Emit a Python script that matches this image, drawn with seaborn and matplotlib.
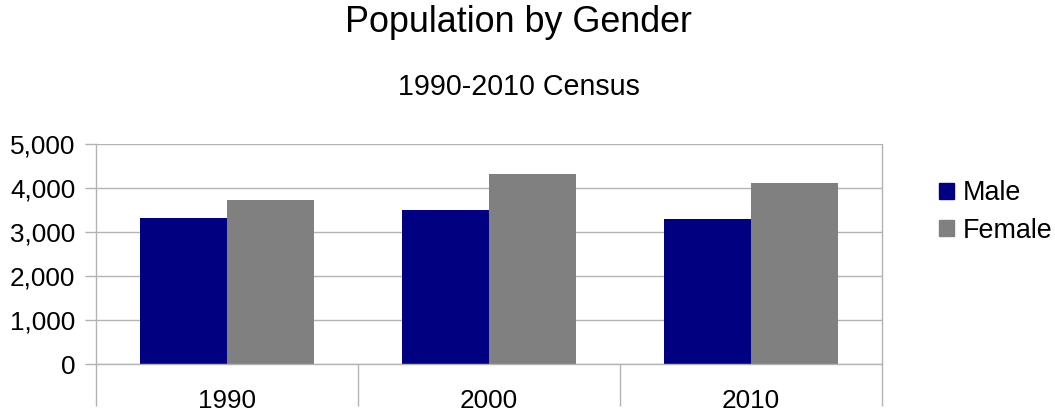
import pandas as pd
import seaborn as sns
import matplotlib.pyplot as plt

years = ['1990', '2000', '2010']
male = [3325, 3507, 3302]
female = [3734, 4325, 4120]
genders = ['Male', 'Female']
gender_colors = ['#000080', '#808080']

sns.set_style('white')
plt.rcParams['font.family'] = ['Liberation Sans', 'DejaVu Sans']
plt.rcParams['text.color'] = 'black'
plt.rcParams['xtick.labelcolor'] = 'black'
plt.rcParams['ytick.labelcolor'] = 'black'


def build_frame():
    rows = []
    for y, m, f in zip(years, male, female):
        rows.append({'Year': y, 'Gender': 'Male', 'Population': m})
        rows.append({'Year': y, 'Gender': 'Female', 'Population': f})
    return pd.DataFrame(rows)


def main():
    df = build_frame()
    fig = plt.figure(figsize=(10.55, 4.15), dpi=100)
    ax = fig.add_axes([96 / 1055, 1 - 364 / 415, 786 / 1055, 220 / 415])
    sns.barplot(data=df, x='Year', y='Population', hue='Gender',
                hue_order=genders, palette=gender_colors, width=0.667,
                saturation=1, linewidth=0, ax=ax, legend=False)

    grid = '#b3b3b3'
    ax.set_ylim(0, 5000)
    ax.set_xlim(-0.5, 2.5)
    ax.set_yticks(range(0, 5001, 1000))
    ax.set_yticklabels([f'{v:,}' for v in range(0, 5001, 1000)])
    ax.yaxis.grid(True, color=grid, linewidth=1)
    ax.set_axisbelow(True)
    ax.set_xlabel('')
    ax.set_ylabel('')
    for s in ax.spines.values():
        s.set_color(grid)
        s.set_linewidth(1)
    ax.spines['top'].set_visible(False)

    ax.tick_params(axis='y', length=8, width=1, color=grid, labelsize=18.8,
                   pad=7, left=True)
    ax.tick_params(axis='x', which='major', length=0, labelsize=18.8, pad=18)
    ax.set_xticks([-0.5, 0.5, 1.5, 2.5], minor=True)
    ax.tick_params(axis='x', which='minor', length=30, width=1, color=grid,
                   bottom=True)

    fig.text(0.4915, 1 - 22 / 415, 'Population by Gender', ha='center',
             va='center', fontsize=25.8)
    fig.text(0.4915, 1 - 87 / 415, '1990-2010 Census', ha='center',
             va='center', fontsize=20.6)

    handles = [plt.Rectangle((0, 0), 1, 1, color=c) for c in gender_colors]
    fig.legend(handles, genders, loc='upper left',
               bbox_to_anchor=(926 / 1055, 1 - 167 / 415), frameon=False,
               fontsize=19.4, handlelength=0.55, handleheight=0.55,
               handletextpad=0.3, labelspacing=0.42, borderpad=0)

    plt.savefig('out.png', dpi=100)


if __name__ == '__main__':
    main()
